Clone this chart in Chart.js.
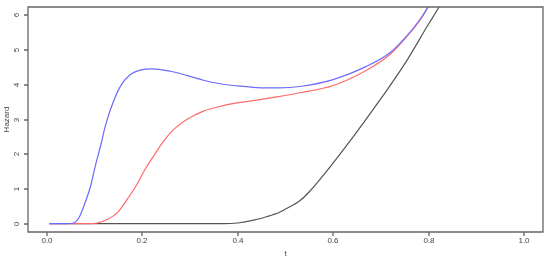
<!DOCTYPE html>
<html lang="en">
<head>
    <meta charset="UTF-8">
    <title>Hazard curves</title>
    <script src="https://cdn.jsdelivr.net/npm/chart.js"></script>
    <style>
        html, body { margin: 0; padding: 0; background: #fff; }
        #wrap { width: 550px; height: 264px; position: relative; }
    </style>
</head>
<body>
    <div id="wrap"><canvas id="hazardChart"></canvas></div>

    <script>
        // values
        const xTicks = [0, 0.2, 0.4, 0.6, 0.8, 1.0];
        const xTickLabels = ['0.0', '0.2', '0.4', '0.6', '0.8', '1.0'];
        const yTicks = [0, 1, 2, 3, 4, 5, 6];
        const yTickLabels = ['0', '1', '2', '3', '4', '5', '6'];

        const tBlack = [0.005, 0.3, 0.37, 0.40, 0.433, 0.46, 0.4875, 0.5, 0.53, 0.55, 0.6, 0.65, 0.7, 0.75, 0.8, 0.822, 0.83];
        const hazBlack = [0, 0, 0, 0.02, 0.10, 0.20, 0.33, 0.42, 0.66, 0.92, 1.75, 2.65, 3.6, 4.6, 5.75, 6.24, 6.45];

        const tRed = [0.005, 0.09, 0.105, 0.126, 0.147, 0.1675, 0.188, 0.206, 0.223, 0.244, 0.265, 0.293, 0.328, 0.363, 0.398, 0.426, 0.4815, 0.53, 0.6, 0.67, 0.719, 0.754, 0.782, 0.799, 0.81];
        const hazRed = [0, 0, 0.02, 0.12, 0.31, 0.69, 1.12, 1.58, 1.94, 2.37, 2.71, 3.0, 3.24, 3.38, 3.48, 3.53, 3.65, 3.77, 3.98, 4.42, 4.87, 5.38, 5.86, 6.24, 6.5];

        const tBlue = [0.005, 0.04, 0.056, 0.068, 0.077, 0.091, 0.101, 0.112, 0.122, 0.133, 0.153, 0.174, 0.195, 0.22, 0.258, 0.293, 0.328, 0.363, 0.398, 0.44, 0.4875, 0.53, 0.6, 0.67, 0.719, 0.754, 0.782, 0.799, 0.81];
        const hazBlue = [0, 0, 0.02, 0.2, 0.5, 1.07, 1.65, 2.23, 2.8, 3.29, 3.94, 4.29, 4.42, 4.46, 4.39, 4.27, 4.13, 4.03, 3.97, 3.92, 3.91, 3.95, 4.15, 4.53, 4.92, 5.40, 5.88, 6.24, 6.5];

        function toPoints(xs, ys) {
            return xs.map((x, i) => ({ x: x, y: ys[i] }));
        }

        // R style box, ticks and labels
        const rAxes = {
            id: 'rAxes',
            afterDraw(chart) {
                const ctx = chart.ctx;
                const area = chart.chartArea;
                const xs = chart.scales.x;
                const ys = chart.scales.y;
                const l = area.left, r = area.right, t = area.top, b = area.bottom;
                ctx.save();
                ctx.strokeStyle = '#666';
                ctx.lineWidth = 1.3;
                ctx.beginPath();
                ctx.moveTo(l, t);
                ctx.lineTo(r, t);
                ctx.lineTo(r, b);
                ctx.lineTo(l, b);
                ctx.closePath();

                // ticks
                xTicks.forEach(v => {
                    const px = Math.round(xs.getPixelForValue(v));
                    ctx.moveTo(px, b);
                    ctx.lineTo(px, b + 4);
                });
                yTicks.forEach(v => {
                    const py = Math.round(ys.getPixelForValue(v));
                    ctx.moveTo(l, py);
                    ctx.lineTo(l - 4, py);
                });
                ctx.stroke();

                ctx.fillStyle = '#444';
                ctx.font = '8px "Liberation Sans", Arial, sans-serif';
                ctx.textAlign = 'center';
                ctx.textBaseline = 'middle';

                xTicks.forEach((v, i) => {
                    ctx.fillText(xTickLabels[i], Math.round(xs.getPixelForValue(v)), 241);
                });
                yTicks.forEach((v, i) => {
                    ctx.save();
                    ctx.translate(17, Math.round(ys.getPixelForValue(v)));
                    ctx.rotate(-Math.PI / 2);
                    ctx.fillText(yTickLabels[i], 0, 0);
                    ctx.restore();
                });

                ctx.fillText('t', (l + r) / 2, 254);
                ctx.save();
                ctx.translate(7, (t + b) / 2);
                ctx.rotate(-Math.PI / 2);
                ctx.fillText('Hazard', 0, 0);
                ctx.restore();
                ctx.restore();
            }
        };

        new Chart(document.getElementById('hazardChart'), {
            type: 'line',
            data: {
                datasets: [
                    { label: 'blue', data: toPoints(tBlue, hazBlue), borderColor: '#6a6aff', order: 0 },
                    { label: 'red', data: toPoints(tRed, hazRed), borderColor: '#ff6a6a', order: 1 },
                    { label: 'black', data: toPoints(tBlack, hazBlack), borderColor: '#555555', order: 2 }
                ]
            },
            options: {
                responsive: true,
                maintainAspectRatio: false,
                animation: false,
                layout: { padding: { left: 28, right: 7, top: 7, bottom: 32 } },
                elements: {
                    point: { radius: 0 },
                    line: { borderWidth: 1.2, cubicInterpolationMode: 'monotone', fill: false }
                },
                plugins: {
                    legend: { display: false },
                    tooltip: { enabled: false }
                },
                scales: {
                    x: { type: 'linear', min: -0.04, max: 1.04, display: false },
                    y: { type: 'linear', min: -0.24, max: 6.24, display: false }
                }
            },
            plugins: [rAxes]
        });
    </script>
</body>
</html>
